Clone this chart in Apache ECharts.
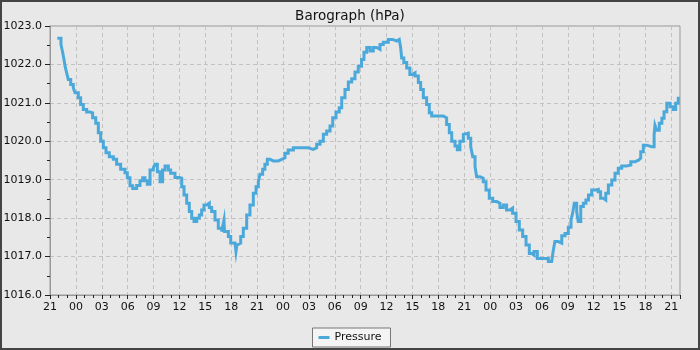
<!DOCTYPE html>
<html>
<head>
<meta charset="utf-8">
<script src="https://cdn.jsdelivr.net/npm/echarts@6/dist/echarts.min.js"></script>
<style>
html,body{margin:0;padding:0;background:#e8e8e8;}
#frame{width:700px;height:350px;box-sizing:border-box;border:2px solid #444;background:#e8e8e8;position:relative;}
#c{position:absolute;left:-2px;top:-2px;width:700px;height:350px;}
</style>
</head>
<body>
<div id="frame"><div id="c"></div></div>
<script>
// hours since 21:00 of first day
const hours = [0.85,1.27,1.47,1.62,1.74,1.93,2.12,2.4,2.7,2.9,3.28,3.55,3.86,4.25,4.63,4.94,5.3,5.6,5.87,6.18,6.49,6.87,7.34,7.72,8.19,8.69,8.96,9.27,9.58,10.04,10.43,10.74,11.0,11.28,11.59,11.97,12.17,12.44,12.75,13.05,13.33,13.71,13.98,14.48,14.98,15.26,15.53,15.84,16.14,16.42,16.69,17.0,17.3,17.57,17.84,18.15,18.46,18.73,19.12,19.5,19.89,20.1,20.16,20.22,20.4,20.67,20.94,21.44,21.55,21.65,21.82,22.1,22.4,22.79,23.17,23.56,23.87,24.14,24.33,24.64,24.9,25.18,25.49,25.87,26.45,26.85,27.23,27.6,28.2,28.8,29.35,29.93,30.5,30.9,31.29,31.67,32.06,32.45,32.76,33.14,33.52,33.8,34.18,34.57,34.96,35.34,35.72,36.1,36.38,36.7,37.08,37.46,37.85,38.24,38.62,39.2,39.7,40.17,40.47,40.63,40.75,41.0,41.33,41.7,41.98,42.3,42.68,42.95,43.26,43.64,43.95,44.23,44.6,45.1,45.57,45.96,46.27,46.55,46.93,47.2,47.5,47.9,48.1,48.47,48.75,48.98,49.25,49.44,49.83,50.2,50.52,50.9,51.3,51.76,52.14,52.53,52.9,53.3,53.6,54.0,54.38,54.77,55.16,55.54,55.82,56.08,56.47,56.97,57.36,57.74,58.13,58.3,58.5,58.9,59.3,59.68,60.06,60.37,60.56,60.75,61.03,61.2,61.5,61.8,62.1,62.4,62.77,63.15,63.53,63.8,64.1,64.4,64.7,65.1,65.47,65.85,66.24,66.8,67.3,67.8,68.2,68.45,68.75,69.14,69.72,70.0,70.1,70.3,70.6,70.9,71.15,71.47,71.85,72.2,72.5,72.8];
const pressure = [1022.68,1022.52,1022.31,1022.13,1021.96,1021.78,1021.61,1021.48,1021.39,1021.26,1021.13,1020.96,1020.83,1020.76,1020.74,1020.61,1020.47,1020.22,1020.0,1019.83,1019.70,1019.60,1019.53,1019.40,1019.27,1019.18,1019.05,1018.84,1018.77,1018.85,1018.97,1019.05,1018.97,1018.88,1019.25,1019.31,1019.40,1019.21,1018.95,1019.25,1019.36,1019.25,1019.17,1019.06,1019.04,1018.82,1018.60,1018.39,1018.17,1018.00,1017.91,1018.00,1018.08,1018.21,1018.34,1018.39,1018.28,1018.17,1017.95,1017.74,1017.65,1017.65,1017.95,1017.65,1017.65,1017.52,1017.35,1017.30,1017.13,1017.30,1017.35,1017.52,1017.74,1018.08,1018.34,1018.65,1018.82,1018.95,1019.14,1019.27,1019.40,1019.53,1019.49,1019.49,1019.53,1019.57,1019.69,1019.77,1019.83,1019.83,1019.83,1019.79,1019.83,1019.92,1020.0,1020.18,1020.27,1020.40,1020.61,1020.76,1020.87,1021.13,1021.35,1021.54,1021.63,1021.80,1021.95,1022.13,1022.32,1022.44,1022.35,1022.44,1022.39,1022.52,1022.58,1022.65,1022.61,1022.65,1022.64,1022.44,1022.17,1022.05,1021.91,1021.74,1021.78,1021.70,1021.53,1021.35,1021.13,1020.96,1020.74,1020.66,1020.66,1020.66,1020.61,1020.44,1020.22,1020.00,1019.88,1019.78,1020.00,1020.18,1020.21,1020.08,1019.86,1019.60,1019.34,1019.08,1019.04,1018.95,1018.73,1018.52,1018.43,1018.39,1018.28,1018.34,1018.21,1018.26,1018.13,1017.91,1017.69,1017.52,1017.30,1017.08,1017.04,1017.13,1016.95,1016.95,1016.95,1016.87,1016.87,1017.13,1017.39,1017.35,1017.54,1017.60,1017.76,1017.95,1018.13,1018.39,1018.17,1017.91,1018.30,1018.39,1018.47,1018.60,1018.73,1018.75,1018.69,1018.52,1018.47,1018.65,1018.86,1018.99,1019.17,1019.30,1019.36,1019.38,1019.47,1019.51,1019.56,1019.73,1019.90,1019.86,1019.86,1020.16,1020.42,1020.29,1020.47,1020.60,1020.77,1020.99,1020.90,1020.83,1020.99,1021.16];
const startHour = 21;
const titleText = 'Barograph (hPa)';
const seriesName = 'Pressure';

const data = hours.map((h, i) => [h, pressure[i]]);
const FONT = 'DejaVu Sans';
const chart = echarts.init(document.getElementById('c'), null, {renderer: 'canvas'});
chart.setOption({
  backgroundColor: 'transparent',
  animation: false,
  title: {text: titleText, left: 'center', top: 4,
    textStyle: {fontFamily: FONT, fontSize: 13.5, fontWeight: 'normal', color: '#111'}},
  legend: {
    bottom: 3, left: 'center', data: [seriesName],
    backgroundColor: '#f4f4f4', borderColor: '#777', borderWidth: 1, borderRadius: 0,
    padding: [4, 9, 4, 6], icon: 'rect', itemWidth: 11, itemHeight: 3, itemGap: 5,
    textStyle: {fontFamily: FONT, fontSize: 11, color: '#111'}
  },
  grid: {left: 50, right: 20, top: 26, bottom: 55, show: true,
    borderColor: '#999', borderWidth: 1, backgroundColor: '#e8e8e8'},
  xAxis: {
    type: 'value', min: 0, max: 73, interval: 3,
    axisLine: {show: true, lineStyle: {color: '#999'}},
    axisTick: {show: true, length: 4, lineStyle: {color: '#222'}},
    minorTick: {show: true, splitNumber: 3, length: 3, lineStyle: {color: '#222'}},
    splitLine: {show: true, lineStyle: {color: '#c2c2c2', type: [4, 3], width: 1}},
    axisLabel: {
      fontFamily: FONT, fontSize: 11, color: '#111', margin: 7, showMaxLabel: false,
      formatter: v => (v % 3 === 0) ? String((startHour + v) % 24).padStart(2, '0') : ''
    }
  },
  yAxis: {
    type: 'value', min: 1016, max: 1023, interval: 1,
    axisLine: {show: true, lineStyle: {color: '#999'}},
    axisTick: {show: true, length: 5, lineStyle: {color: '#222'}},
    minorTick: {show: true, splitNumber: 2, length: 3, lineStyle: {color: '#222'}},
    splitLine: {show: true, lineStyle: {color: '#c2c2c2', type: [4, 3], width: 1}},
    axisLabel: {fontFamily: FONT, fontSize: 11, color: '#111', margin: 8,
      formatter: v => v.toFixed(1)}
  },
  series: [{
    name: seriesName, type: 'line', data: data, showSymbol: false, step: 'end',
    lineStyle: {color: '#4aa9da', width: 3, cap: 'butt', join: 'miter'},
    itemStyle: {color: '#4aa9da'}
  }]
});
</script>
</body>
</html>
